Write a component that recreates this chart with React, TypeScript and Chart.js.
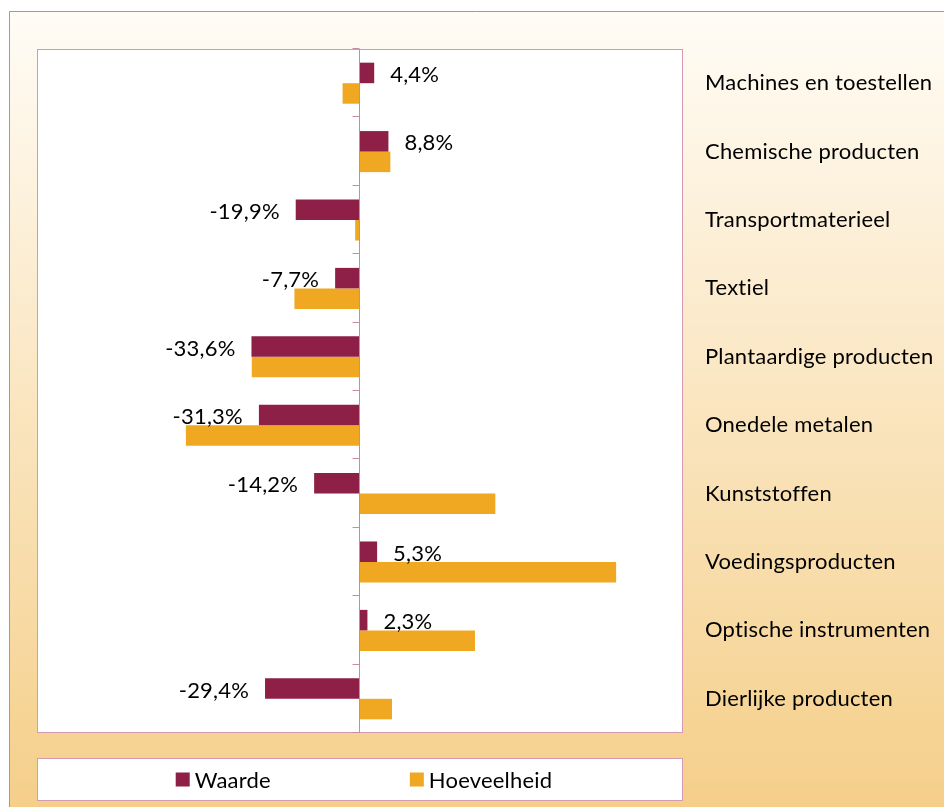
import React, { useEffect, useRef } from "react";
import { Chart, registerables } from "chart.js";

Chart.register(...registerables);

const categories = [
  "Machines en toestellen",
  "Chemische producten",
  "Transportmaterieel",
  "Textiel",
  "Plantaardige producten",
  "Onedele metalen",
  "Kunststoffen",
  "Voedingsproducten",
  "Optische instrumenten",
  "Dierlijke producten",
];
const waarde = [4.4, 8.8, -19.9, -7.7, -33.6, -31.3, -14.2, 5.3, 2.3, -29.4];
const hoeveelheid = [-5.4, 9.4, -1.5, -20.3, -33.5, -53.9, 41.9, 79.3, 35.6, 9.9];
const seriesNames = ["Waarde", "Hoeveelheid"];

const MAROON = "#8E1F47";
const ORANGE = "#F0A823";
const PINK = "#D49AB3";
const FONT = "Lato, 'DejaVu Sans', sans-serif";

const fmt = (v: number) => v.toFixed(1).replace(".", ",") + "%";

const decorPlugin = {
  id: "decor",
  beforeDraw(chart: any) {
    const { ctx, width, height, chartArea } = chart;
    ctx.save();
    ctx.fillStyle = "#ffffff";
    ctx.fillRect(0, 0, width, height);
    const g = ctx.createLinearGradient(0, 11, 0, height);
    g.addColorStop(0, "#FFFCF6");
    g.addColorStop(0.5, "#FAE5BF");
    g.addColorStop(1, "#F5CF8A");
    ctx.fillStyle = g;
    ctx.fillRect(9, 11, width - 9, height - 11);
    ctx.strokeStyle = "#9C9C9C";
    ctx.lineWidth = 1;
    ctx.beginPath();
    ctx.moveTo(9.5, height);
    ctx.lineTo(9.5, 11.5);
    ctx.lineTo(width, 11.5);
    ctx.stroke();
    // plot background
    ctx.fillStyle = "#ffffff";
    ctx.fillRect(chartArea.left, chartArea.top, chartArea.right - chartArea.left, chartArea.bottom - chartArea.top);
    ctx.restore();
    // small letter spacing avoids font ligatures (e.g. "ti") in all following text
    try {
      ctx.letterSpacing = "0.2px";
    } catch (e) {}
  },
  afterDatasetsDraw(chart: any) {
    const { ctx, chartArea, scales } = chart;
    const xs = scales.x;
    const ys = scales.y;
    ctx.save();
    // plot border
    ctx.strokeStyle = PINK;
    ctx.lineWidth = 1;
    ctx.strokeRect(chartArea.left + 0.5, chartArea.top + 0.5, chartArea.right - chartArea.left - 1, chartArea.bottom - chartArea.top - 1);
    // zero axis
    const x0 = Math.round(xs.getPixelForValue(0)) - 0.5;
    ctx.strokeStyle = "#C98AA4";
    ctx.beginPath();
    ctx.moveTo(x0, chartArea.top);
    ctx.lineTo(x0, chartArea.bottom);
    for (let i = 0; i <= categories.length; i++) {
      const y = Math.round(ys.getPixelForValue(i - 0.5)) - 0.5;
      ctx.moveTo(x0 - 7, y);
      ctx.lineTo(x0, y);
    }
    ctx.stroke();

    // data labels for Waarde
    const meta = chart.getDatasetMeta(0);
    ctx.font = "22px " + FONT;
    ctx.fillStyle = "#000000";
    ctx.textBaseline = "middle";
    meta.data.forEach((bar: any, i: number) => {
      const v = waarde[i];
      if (v >= 0) {
        ctx.textAlign = "left";
        ctx.fillText(fmt(v), bar.x + 16, bar.y + 2);
      } else {
        ctx.textAlign = "right";
        ctx.fillText(fmt(v), bar.x - 16, bar.y + 2);
      }
    });

    // legend
    const lx = chartArea.left;
    const lw = chartArea.right - chartArea.left;
    const ly = chartArea.bottom + 25;
    const lh = 43;
    ctx.fillStyle = "#ffffff";
    ctx.fillRect(lx, ly, lw, lh);
    ctx.strokeStyle = PINK;
    ctx.strokeRect(lx + 0.5, ly + 0.5, lw - 1, lh - 1);
    ctx.font = "22px " + FONT;
    const gap = 139;
    const items = chart.data.datasets.map((d: any) => ({
      label: d.label,
      color: d.backgroundColor,
      w: 14 + 5 + ctx.measureText(d.label).width,
    }));
    const total = items.reduce((s: number, it: any) => s + it.w, 0) + gap * (items.length - 1);
    let cx = lx + lw / 2 - total / 2 + 4;
    const cy = ly + lh / 2;
    ctx.textAlign = "left";
    ctx.textBaseline = "middle";
    items.forEach((it: any) => {
      ctx.fillStyle = it.color;
      ctx.fillRect(cx, cy - 7, 14, 14);
      ctx.fillStyle = "#000000";
      ctx.fillText(it.label, cx + 19, cy + 1);
      cx += it.w + gap;
    });
    ctx.restore();
  },
};

export default function App() {
  const ref = useRef<HTMLCanvasElement>(null);
  useEffect(() => {
    if (!ref.current) return;
    const chart = new Chart(ref.current, {
      type: "bar",
      data: {
        labels: categories,
        datasets: [
          { label: seriesNames[0], data: waarde, backgroundColor: MAROON, borderWidth: 0, categoryPercentage: 0.6, barPercentage: 1.0 },
          { label: seriesNames[1], data: hoeveelheid, backgroundColor: ORANGE, borderWidth: 0, categoryPercentage: 0.6, barPercentage: 1.0 },
        ],
      },
      options: {
        indexAxis: "y",
        animation: false,
        responsive: true,
        maintainAspectRatio: false,
        layout: { padding: { left: 37, top: 49, right: 0, bottom: 74 } },
        plugins: { legend: { display: false }, tooltip: { enabled: false } },
        scales: {
          x: { display: false, min: -100, max: 100 },
          y: {
            position: "right",
            grid: { display: false, drawTicks: false },
            border: { display: false },
            ticks: { color: "#000000", font: { family: FONT, size: 22 }, padding: 22 },
            afterFit: (s: any) => {
              s.width = 261;
            },
          },
        },
      },
      plugins: [decorPlugin],
    });
    return () => chart.destroy();
  }, []);
  return (
    <div style={{ position: "fixed", left: 0, top: 0, width: 944, height: 807 }}>
      <canvas ref={ref} />
    </div>
  );
}
